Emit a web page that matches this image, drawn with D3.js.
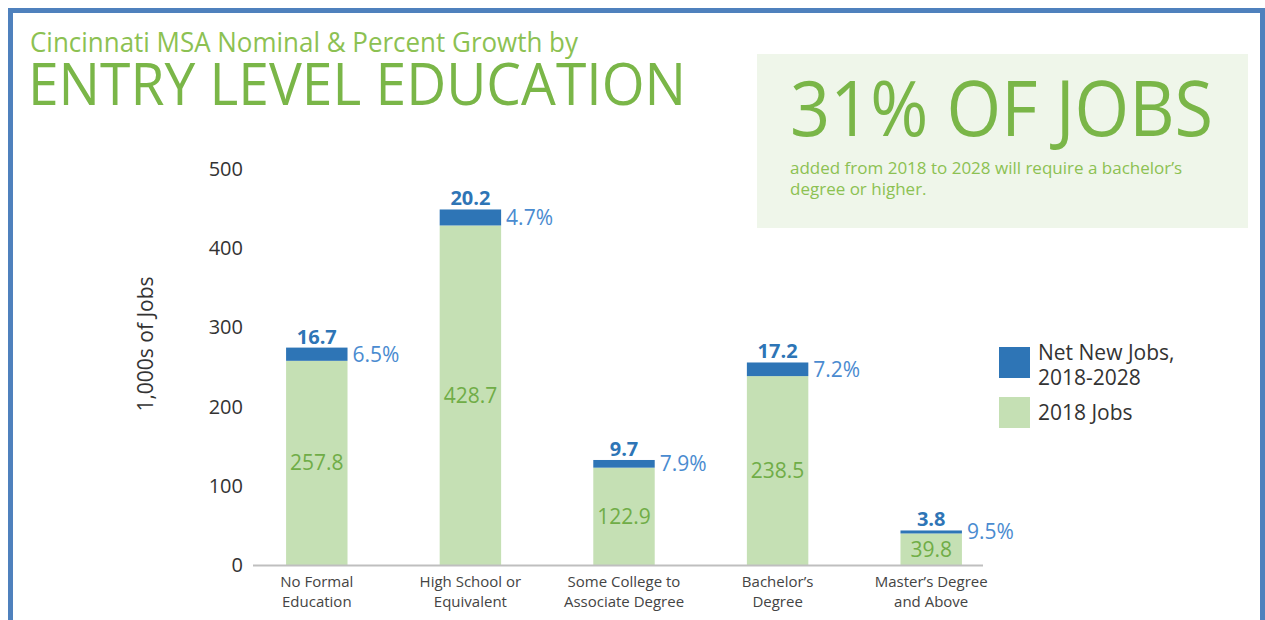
<!DOCTYPE html>
<html>
<head>
<meta charset="utf-8">
<script src="https://cdn.jsdelivr.net/npm/d3@7"></script>
<style>
  html, body { margin: 0; padding: 0; background: #fff; }
  svg { display: block; font-family: "Open Sans", sans-serif; }
</style>
</head>
<body>
<svg id="chart" width="1265" height="620"></svg>
<script>
// data
var categories = [
  ['No Formal', 'Education'],
  ['High School or', 'Equivalent'],
  ['Some College to', 'Associate Degree'],
  ["Bachelor\u2019s", 'Degree'],
  ["Master\u2019s Degree", 'and Above']
];
var jobs2018 = [257.8, 428.7, 122.9, 238.5, 39.8];
var netNew = [16.7, 20.2, 9.7, 17.2, 3.8];
var pctGrowth = ['6.5%', '4.7%', '7.9%', '7.2%', '9.5%'];
var yTicks = [0, 100, 200, 300, 400, 500];
var legendItems = [
  { lines: ['Net New Jobs,', '2018-2028'], color: '#2e75b6' },
  { lines: ['2018 Jobs'], color: '#c5e0b4' }
];

var GREEN = '#c5e0b4', BLUE = '#2e75b6', TITLE_GREEN = '#7ab648';

var svg = d3.select('#chart');

// frame
svg.append('rect')
  .attr('x', 10.5).attr('y', 10.5)
  .attr('width', 1252).attr('height', 640)
  .attr('fill', 'none')
  .attr('stroke', '#4f81bd')
  .attr('stroke-width', 5);

// titles (the source font is narrower than Open Sans, so squeeze to width)
svg.append('text')
  .attr('x', 30).attr('y', 52)
  .attr('font-size', 27)
  .attr('textLength', 548)
  .attr('lengthAdjust', 'spacingAndGlyphs')
  .attr('fill', '#8cc152')
  .text('Cincinnati MSA Nominal & Percent Growth by');

svg.append('text')
  .attr('x', 28).attr('y', 105)
  .attr('font-size', 58)
  .attr('textLength', 658)
  .attr('lengthAdjust', 'spacingAndGlyphs')
  .attr('fill', TITLE_GREEN)
  .text('ENTRY LEVEL EDUCATION');

// callout box
svg.append('rect')
  .attr('x', 757).attr('y', 54)
  .attr('width', 491).attr('height', 174)
  .attr('fill', '#eff6ea');

svg.append('text')
  .attr('x', 790).attr('y', 136)
  .attr('font-size', 76)
  .attr('textLength', 423)
  .attr('lengthAdjust', 'spacingAndGlyphs')
  .attr('fill', TITLE_GREEN)
  .text('31% OF JOBS');

svg.append('text')
  .attr('x', 790).attr('y', 174)
  .attr('font-size', 17)
  .attr('font-weight', 500)
  .attr('fill', '#8cc152')
  .selectAll('tspan')
  .data(["added from 2018 to 2028 will require a bachelor\u2019s", 'degree or higher.'])
  .enter().append('tspan')
  .attr('x', 790)
  .attr('dy', function (d, i) { return i ? 21 : 0; })
  .text(function (d) { return d; });

// scales
var x = d3.scaleBand()
  .domain(d3.range(categories.length))
  .range([240, 1008])
  .paddingInner(0.6)
  .paddingOuter(0.3);

var y = d3.scaleLinear()
  .domain([0, 500])
  .range([565, 169]);

// y axis labels
svg.append('g').selectAll('text')
  .data(yTicks)
  .enter().append('text')
  .attr('x', 243)
  .attr('y', function (d) { return y(d); })
  .attr('dy', '0.35em')
  .attr('text-anchor', 'end')
  .attr('font-size', 20)
  .attr('fill', '#333')
  .text(function (d) { return d; });

svg.append('text')
  .attr('transform', 'translate(153,344) rotate(-90)')
  .attr('text-anchor', 'middle')
  .attr('font-size', 21)
  .attr('fill', '#333')
  .text('1,000s of Jobs');

// bars
var bars = svg.append('g').selectAll('g')
  .data(jobs2018)
  .enter().append('g');

bars.append('rect')
  .attr('x', function (d, i) { return x(i); })
  .attr('y', function (d) { return y(d); })
  .attr('width', x.bandwidth())
  .attr('height', function (d) { return y(0) - y(d); })
  .attr('fill', GREEN);

bars.append('rect')
  .attr('x', function (d, i) { return x(i); })
  .attr('y', function (d, i) { return y(d + netNew[i]); })
  .attr('width', x.bandwidth())
  .attr('height', function (d, i) { return y(d) - y(d + netNew[i]); })
  .attr('fill', BLUE);

// x axis line
svg.append('line')
  .attr('x1', 253).attr('x2', 983)
  .attr('y1', y(0) + 0.5).attr('y2', y(0) + 0.5)
  .attr('stroke', '#bfbfbf')
  .attr('stroke-width', 2);

// green value labels
bars.append('text')
  .attr('x', function (d, i) { return x(i) + x.bandwidth() / 2; })
  .attr('y', function (d) { return (y(0) + y(d)) / 2; })
  .attr('dy', '0.35em')
  .attr('text-anchor', 'middle')
  .attr('font-size', 21)
  .attr('fill', '#70ad47')
  .text(function (d) { return d.toFixed(1); });

// net new labels on top
bars.append('text')
  .attr('x', function (d, i) { return x(i) + x.bandwidth() / 2; })
  .attr('y', function (d, i) { return y(d + netNew[i]) - 4; })
  .attr('text-anchor', 'middle')
  .attr('font-size', 20)
  .attr('font-weight', 'bold')
  .attr('fill', BLUE)
  .text(function (d, i) { return netNew[i].toFixed(1); });

// percent labels
bars.append('text')
  .attr('x', function (d, i) { return x(i) + x.bandwidth() + 5; })
  .attr('y', function (d, i) { return (y(d) + y(d + netNew[i])) / 2; })
  .attr('dy', '0.35em')
  .attr('font-size', 21)
  .attr('fill', '#4a8bd0')
  .text(function (d, i) { return pctGrowth[i]; });

// category labels
var cat = svg.append('g').selectAll('text')
  .data(categories)
  .enter().append('text')
  .attr('text-anchor', 'middle')
  .attr('font-size', 15)
  .attr('fill', '#444')
  .attr('x', function (d, i) { return x(i) + x.bandwidth() / 2; })
  .attr('y', 587);

cat.selectAll('tspan')
  .data(function (d) { return d; })
  .enter().append('tspan')
  .attr('x', function () { return d3.select(this.parentNode).attr('x'); })
  .attr('dy', function (d, i) { return i ? 20 : 0; })
  .text(function (d) { return d; });

// legend
var legend = svg.append('g').selectAll('g')
  .data(legendItems)
  .enter().append('g')
  .attr('transform', function (d, i) { return 'translate(999,' + (347 + i * 50) + ')'; });

legend.append('rect')
  .attr('width', 31).attr('height', 31)
  .attr('fill', function (d) { return d.color; });

legend.append('text')
  .attr('x', 39)
  .attr('y', function (d) { return d.lines.length > 1 ? 13 : 23; })
  .attr('font-size', 21)
  .attr('fill', '#333')
  .selectAll('tspan')
  .data(function (d) { return d.lines; })
  .enter().append('tspan')
  .attr('x', 39)
  .attr('dy', function (d, i) { return i ? 25 : 0; })
  .text(function (d) { return d; });
</script>
</body>
</html>
